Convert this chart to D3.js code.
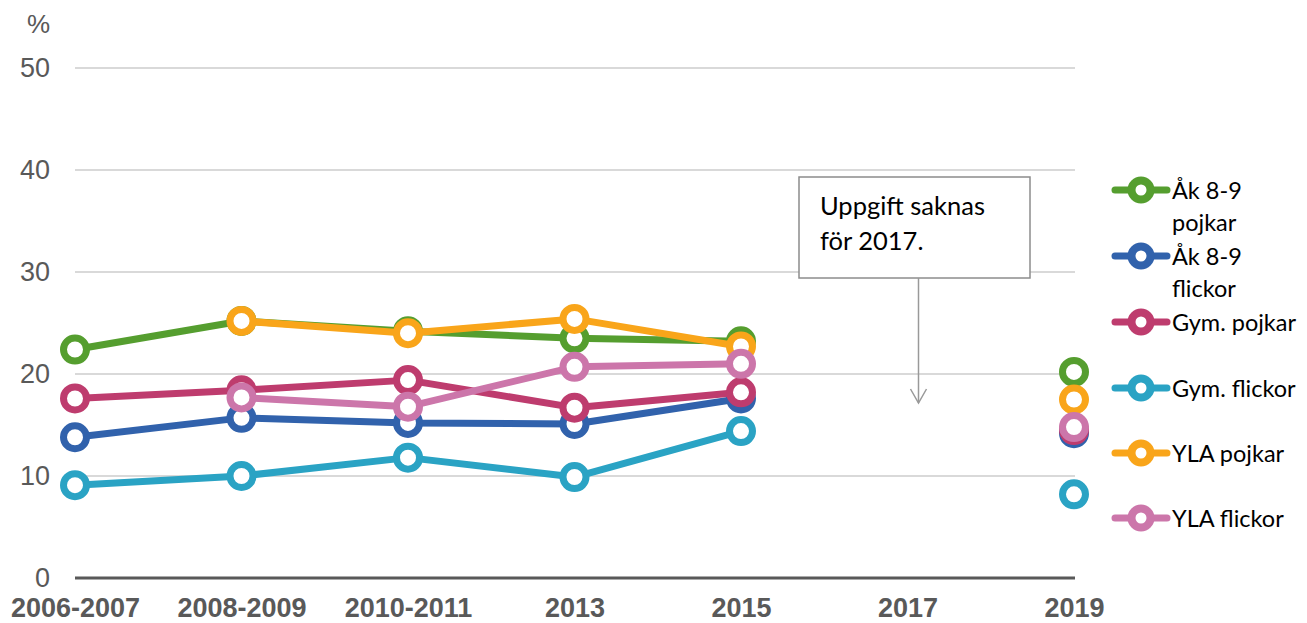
<!DOCTYPE html>
<html>
<head>
<meta charset="utf-8">
<script src="https://cdn.jsdelivr.net/npm/d3@7"></script>
<style>
  html, body { margin: 0; padding: 0; background: #fff; }
  svg { display: block; }
</style>
</head>
<body>
<svg id="chart" width="1307" height="623"></svg>
<script>
const categories = ["2006-2007", "2008-2009", "2010-2011", "2013", "2015", "2017", "2019"];
const yTicks = [0, 10, 20, 30, 40, 50];

const ak89Pojkar  = [22.4, 25.2, 24.2, 23.5, 23.2, null, 20.2];
const ak89Flickor = [13.8, 15.7, 15.2, 15.1, 17.6, null, 14.2];
const gymPojkar   = [17.6, 18.4, 19.4, 16.7, 18.2, null, 14.5];
const gymFlickor  = [9.1, 10.0, 11.8, 9.9, 14.4, null, 8.2];
const ylaPojkar   = [null, 25.2, 24.0, 25.4, 22.7, null, 17.5];
const ylaFlickor  = [null, 17.7, 16.8, 20.7, 21.0, null, 14.8];

const seriesNames = [["Åk 8-9", "pojkar"], ["Åk 8-9", "flickor"], ["Gym. pojkar"], ["Gym. flickor"], ["YLA pojkar"], ["YLA flickor"]];
const seriesValues = [ak89Pojkar, ak89Flickor, gymPojkar, gymFlickor, ylaPojkar, ylaFlickor];
const seriesColors = ["#559E2F", "#3162AC", "#BE3C6E", "#2AA3C4", "#F9A51A", "#CC76AA"];

const annotationLines = ["Uppgift saknas", "för 2017."];
const annotationCategory = "2017";

const svg = d3.select("#chart");
const x = d3.scalePoint().domain(categories).range([75, 1074]);
const y = d3.scaleLinear().domain([0, 50]).range([578, 68]);

// gridlines
svg.append("g").selectAll("line")
  .data(yTicks.filter(d => d > 0))
  .join("line")
  .attr("x1", 75).attr("x2", 1075)
  .attr("y1", d => y(d)).attr("y2", d => y(d))
  .attr("stroke", "#d9d9d9").attr("stroke-width", 2);

// y axis labels
const yAxis = d3.axisLeft(y).tickValues(yTicks).tickSize(0).tickPadding(0).tickFormat(d3.format("d"));
const yg = svg.append("g").attr("transform", "translate(50,0)").call(yAxis);
yg.select(".domain").remove();
yg.selectAll("text")
  .attr("font-family", "Liberation Sans, Arial, sans-serif")
  .attr("font-size", 27).attr("fill", "#595959").attr("dy", "0.32em");

svg.append("text").attr("x", 50).attr("y", 33).attr("text-anchor", "end")
  .attr("font-family", "Liberation Sans, Arial, sans-serif")
  .attr("font-size", 26).attr("fill", "#595959").text("%");

// zero axis line
svg.append("line").attr("x1", 75).attr("x2", 1075)
  .attr("y1", y(0)).attr("y2", y(0))
  .attr("stroke", "#595959").attr("stroke-width", 3);

// x axis labels
const xAxis = d3.axisBottom(x).tickSize(0).tickPadding(0);
const xg = svg.append("g").attr("transform", "translate(0,597.5)").call(xAxis);
xg.select(".domain").remove();
xg.selectAll("text")
  .attr("font-family", "Liberation Sans, Arial, sans-serif")
  .attr("font-weight", "bold")
  .attr("font-size", 27).attr("fill", "#595959")
  .attr("dy", "0.72em").attr("y", 0);

// series
const line = d3.line()
  .defined(d => d.v !== null)
  .x(d => x(d.c)).y(d => y(d.v));

seriesValues.forEach((vals, i) => {
  const pts = vals.map((v, j) => ({ c: categories[j], v }));
  const g = svg.append("g");
  g.append("path").datum(pts)
    .attr("d", line).attr("fill", "none")
    .attr("stroke", seriesColors[i]).attr("stroke-width", 7)
    .attr("stroke-linejoin", "round");
  g.selectAll("circle").data(pts.filter(d => d.v !== null))
    .join("circle")
    .attr("cx", d => x(d.c)).attr("cy", d => y(d.v))
    .attr("r", 11.5).attr("fill", "#fff")
    .attr("stroke", seriesColors[i]).attr("stroke-width", 7);
});

// annotation
const ax = x(annotationCategory) + 11;
const ann = svg.append("g");
ann.append("rect").attr("x", 799).attr("y", 177).attr("width", 231).attr("height", 101)
  .attr("fill", "#fff").attr("stroke", "#8c8c8c").attr("stroke-width", 1.5);
ann.selectAll("text").data(annotationLines).join("text")
  .attr("x", 820).attr("y", (d, i) => 215 + i * 35)
  .attr("font-family", "Lato, Open Sans, sans-serif")
  .attr("font-size", 25.5).attr("fill", "#000").text(d => d);
ann.append("line").attr("x1", ax).attr("x2", ax).attr("y1", 278).attr("y2", 403)
  .attr("stroke", "#999").attr("stroke-width", 1.5);
ann.append("path").attr("d", `M${ax - 8},389 L${ax},403 L${ax + 8},389`)
  .attr("fill", "none").attr("stroke", "#999").attr("stroke-width", 1.5);

// legend
const legendY = [190, 256, 322, 388, 453, 518];
seriesNames.forEach((name, i) => {
  const g = svg.append("g").attr("transform", `translate(0,${legendY[i]})`);
  g.append("line").attr("x1", 1115).attr("x2", 1167).attr("y1", 0).attr("y2", 0)
    .attr("stroke", seriesColors[i]).attr("stroke-width", 7).attr("stroke-linecap", "round");
  g.append("circle").attr("cx", 1141).attr("cy", 0).attr("r", 9.5)
    .attr("fill", "#fff").attr("stroke", seriesColors[i]).attr("stroke-width", 8);
  g.selectAll("text").data(name).join("text")
    .attr("x", 1172).attr("y", (d, k) => 9 + k * 32)
    .attr("font-family", "Lato, Open Sans, sans-serif")
    .attr("font-size", 23.5).attr("fill", "#000").text(d => d);
});
</script>
</body>
</html>
